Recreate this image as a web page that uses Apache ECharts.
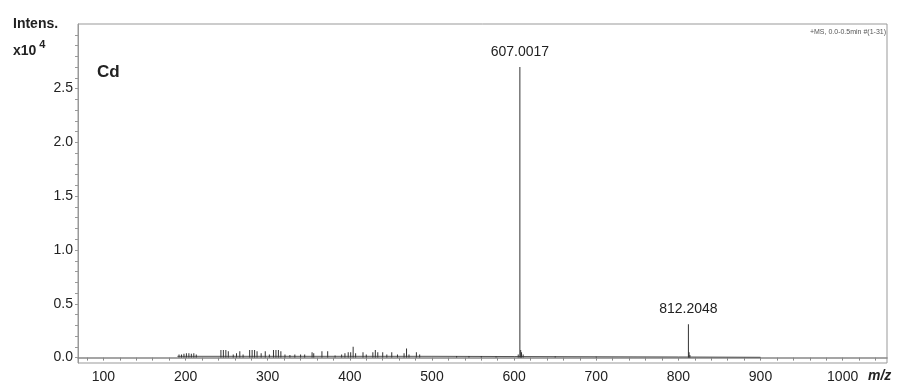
<!DOCTYPE html>
<html>
<head>
<meta charset="utf-8">
<script src="https://cdn.jsdelivr.net/npm/echarts@6/dist/echarts.min.js"></script>
<style>
html,body{margin:0;padding:0;background:#fff;}
#chart{width:903px;height:390px;}
</style>
</head>
<body>
<div id="chart"></div>
<script>
// ---- data (intensity in units of 10^4) ----
const peakMz = [
  192, 195, 198, 201, 204, 207, 210, 213,
  243, 246, 249, 252, 258, 262, 266, 270,
  278, 281, 284, 287, 292, 297, 302,
  307, 310, 313, 316, 321, 327, 333, 340, 345,
  354, 356, 366, 373,
  382, 390, 394, 398, 401, 404, 407, 416, 420,
  428, 431, 434, 440, 445, 451, 458,
  466, 469, 472, 481, 485,
  530, 545, 560, 578,
  605, 607.0017, 608, 609, 611,
  650, 700,
  812.2048, 813, 814
];
const peakInt = [
  0.03, 0.03, 0.035, 0.04, 0.04, 0.035, 0.04, 0.03,
  0.07, 0.07, 0.07, 0.06, 0.03, 0.04, 0.06, 0.03,
  0.07, 0.07, 0.07, 0.06, 0.04, 0.06, 0.03,
  0.07, 0.07, 0.07, 0.06, 0.03, 0.025, 0.03, 0.03, 0.03,
  0.05, 0.04, 0.06, 0.06,
  0.02, 0.03, 0.04, 0.05, 0.05, 0.10, 0.04, 0.05, 0.03,
  0.05, 0.07, 0.05, 0.05, 0.03, 0.05, 0.03,
  0.04, 0.085, 0.03, 0.05, 0.03,
  0.015, 0.015, 0.015, 0.012,
  0.03, 2.70, 0.07, 0.05, 0.03,
  0.012, 0.01,
  0.31, 0.05, 0.025
];
const annotatedMz = [607.0017, 812.2048];
const baselineMz = [190, 300, 400, 500, 600, 700, 800, 900];
const baselineInt = [0.012, 0.012, 0.012, 0.012, 0.01, 0.008, 0.006, 0.003];
const xLabelValues = [100, 200, 300, 400, 500, 600, 700, 800, 900, 1000];
const xTickValues = [80,100,120,140,160,180,200,220,240,260,280,300,320,340,360,380,400,420,440,460,480,500,520,540,560,580,600,620,640,660,680,700,720,740,760,780,800,820,840,860,880,900,920,940,960,980,1000,1020,1040];
const yLabelValues = [0.0, 0.5, 1.0, 1.5, 2.0, 2.5];
const yTickValues = [0,0.1,0.2,0.3,0.4,0.5,0.6,0.7,0.8,0.9,1.0,1.1,1.2,1.3,1.4,1.5,1.6,1.7,1.8,1.9,2.0,2.1,2.2,2.3,2.4,2.5,2.6,2.7,2.8,2.9,3.0];

const FONT = '"Liberation Sans", Arial, sans-serif';

const peakData = peakMz.map((m, i) => {
  const item = { value: [m, peakInt[i]] };
  if (annotatedMz.includes(m)) {
    item.label = { show: true, position: 'top', distance: 8, formatter: m.toFixed(4),
      fontFamily: FONT, fontSize: 14, color: '#222' };
  }
  return item;
});
const baseData = baselineMz.map((m, i) => [m, baselineInt[i]]);

const chart = echarts.init(document.getElementById('chart'), null, { renderer: 'canvas' });
chart.setOption({
  animation: false,
  backgroundColor: '#fff',
  grid: { left: 78, right: 16, top: 24, bottom: 27, show: true, borderColor: '#999', borderWidth: 1 },
  xAxis: {
    type: 'value', min: 69, max: 1054,
    splitLine: { show: false },
    axisLine: { show: true, lineStyle: { color: '#888', width: 1.5 } },
    axisTick: { show: true, length: 3, customValues: xTickValues, lineStyle: { color: '#888' } },
    axisLabel: { customValues: xLabelValues, margin: 7, fontFamily: FONT, fontSize: 14, color: '#222',
      formatter: v => String(v) }
  },
  yAxis: {
    type: 'value', min: -0.05, max: 3.10,
    splitLine: { show: false },
    axisLine: { show: true, lineStyle: { color: '#999', width: 1 } },
    axisTick: { show: true, length: 3, customValues: yTickValues, lineStyle: { color: '#999' } },
    axisLabel: { customValues: yLabelValues, margin: 5, fontFamily: FONT, fontSize: 14, color: '#222',
      formatter: v => v.toFixed(1) }
  },
  series: [
    { type: 'line', data: baseData, symbol: 'none', lineStyle: { color: '#555', width: 1 }, silent: true, z: 1 },
    { type: 'bar', data: peakData, barWidth: 1, itemStyle: { color: '#333' }, silent: true, z: 2 }
  ],
  graphic: [
    { type: 'text', left: 13, top: 17, style: { text: 'Intens.', font: 'bold 14px ' + FONT, fill: '#222' } },
    { type: 'text', left: 13, top: 39, style: {
        text: '{a|x10}{b|4}', fill: '#222',
        rich: { a: { font: 'bold 14px ' + FONT, fill: '#222', verticalAlign: 'bottom' },
                b: { font: 'bold 11px ' + FONT, fill: '#222', padding: [0, 0, 8, 3] } } } },
    { type: 'text', left: 97, top: 64, style: { text: 'Cd', font: 'bold 17px ' + FONT, fill: '#222' } },
    { type: 'text', right: 17, top: 29, style: { text: '+MS, 0.0-0.5min #(1-31)', font: '7px ' + FONT, fill: '#555' } },
    { type: 'text', left: 868, top: 369, style: { text: 'm/z', font: 'bold italic 14px ' + FONT, fill: '#222' } }
  ]
});
</script>
</body>
</html>
